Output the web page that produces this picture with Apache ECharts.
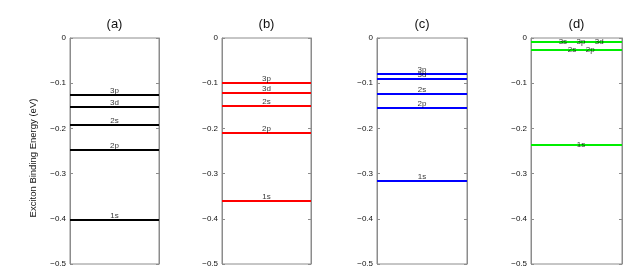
<!DOCTYPE html>
<html>
<head>
<meta charset="utf-8">
<script src="https://cdn.jsdelivr.net/npm/echarts@6/dist/echarts.min.js"></script>
<style>html,body{margin:0;padding:0;background:#fff;}#c{width:644px;height:279px;}</style>
</head>
<body>
<div id="c"></div>
<script>
// Data
const panelTitles = ['(a)', '(b)', '(c)', '(d)'];
const statesA = ['3p', '3d', '2s', '2p', '1s'];
const energiesA = [-0.126, -0.152, -0.191, -0.247, -0.402];
const statesB = ['3p', '3d', '2s', '2p', '1s'];
const energiesB = [-0.100, -0.121, -0.149, -0.209, -0.361];
const statesC = ['3p', '3d', '2s', '2p', '1s'];
const energiesC = [-0.079, -0.091, -0.123, -0.155, -0.315];
const statesD = ['3s', '3p', '3d', '2s', '2p', '1s'];
const energiesD = [-0.009, -0.009, -0.009, -0.026, -0.026, -0.236];
const labelXD = [0.35, 0.55, 0.75, 0.45, 0.65, 0.55];
const yTicks = [0, -0.1, -0.2, -0.3, -0.4, -0.5];
const yAxisName = 'Exciton Binding Energy (eV)';

const panels = [
  {states: statesA, energies: energiesA, color: '#000000', labelX: null, inside: false},
  {states: statesB, energies: energiesB, color: '#ff0000', labelX: null, inside: false},
  {states: statesC, energies: energiesC, color: '#0000ff', labelX: null, inside: false},
  {states: statesD, energies: energiesD, color: '#00ee00', labelX: labelXD, inside: true}
];

const FONT = 'Liberation Sans, Arial, Helvetica, sans-serif';
const gridLefts = [70, 222, 377, 531];
const gridWidths = [89, 89, 90, 91];
const gridTop = 38, gridHeight = 226;

const grids = [], xAxes = [], yAxes = [], series = [], graphics = [];
const fmt = v => v === 0 ? '0' : ('−' + Math.abs(v).toFixed(1));

panels.forEach((p, i) => {
  grids.push({left: gridLefts[i], top: gridTop, width: gridWidths[i], height: gridHeight, show: true,
    borderColor: '#8c8c8c', borderWidth: 1, backgroundColor: '#fff'});
  xAxes.push({type: 'value', gridIndex: i, min: 0, max: 1, show: false});
  yAxes.push({type: 'value', gridIndex: i, min: -0.5, max: 0, interval: 0.1, position: 'left',
    name: i === 0 ? yAxisName : '', nameLocation: 'middle', nameGap: 32, nameRotate: 90,
    nameTextStyle: {fontFamily: FONT, fontSize: 9.5, color: '#111', padding: [0, 14, 0, 0]},
    axisLine: {show: true, lineStyle: {color: '#8c8c8c'}},
    axisTick: {show: true, inside: true, length: 3, lineStyle: {color: '#8c8c8c'}},
    axisLabel: {show: true, formatter: fmt, fontFamily: FONT, fontSize: 8, color: '#111', margin: 4},
    splitLine: {show: false}});
  yAxes.push({type: 'value', gridIndex: i, min: -0.5, max: 0, interval: 0.1, position: 'right',
    axisLine: {show: true, lineStyle: {color: '#8c8c8c'}},
    axisTick: {show: true, inside: true, length: 3, lineStyle: {color: '#8c8c8c'}},
    axisLabel: {show: false}, splitLine: {show: false}});
  series.push({type: 'lines', coordinateSystem: 'cartesian2d', xAxisIndex: i, yAxisIndex: 2 * i,
    silent: true, lineStyle: {color: p.color, width: 2, opacity: 1},
    data: p.energies.map(e => ({coords: [[0, e], [1, e]]}))});
  series.push({type: 'scatter', xAxisIndex: i, yAxisIndex: 2 * i, symbolSize: 0, silent: true,
    label: {show: true, formatter: '{b}', position: p.inside ? 'inside' : 'top', distance: 0,
      fontFamily: FONT, fontSize: 8, color: '#000'},
    data: p.states.map((s, k) => ({name: s, value: [p.labelX ? p.labelX[k] : 0.5, p.energies[k]]}))});
  graphics.push({type: 'text', x: gridLefts[i] + gridWidths[i] / 2, y: 24,
    style: {text: panelTitles[i], font: '13px ' + FONT, fill: '#111', textAlign: 'center', textVerticalAlign: 'middle'}});
});

const chart = echarts.init(document.getElementById('c'), null, {renderer: 'canvas'});
chart.setOption({
  animation: false,
  backgroundColor: '#fff',
  grid: grids, xAxis: xAxes, yAxis: yAxes, series: series, graphic: graphics
});
</script>
</body>
</html>
